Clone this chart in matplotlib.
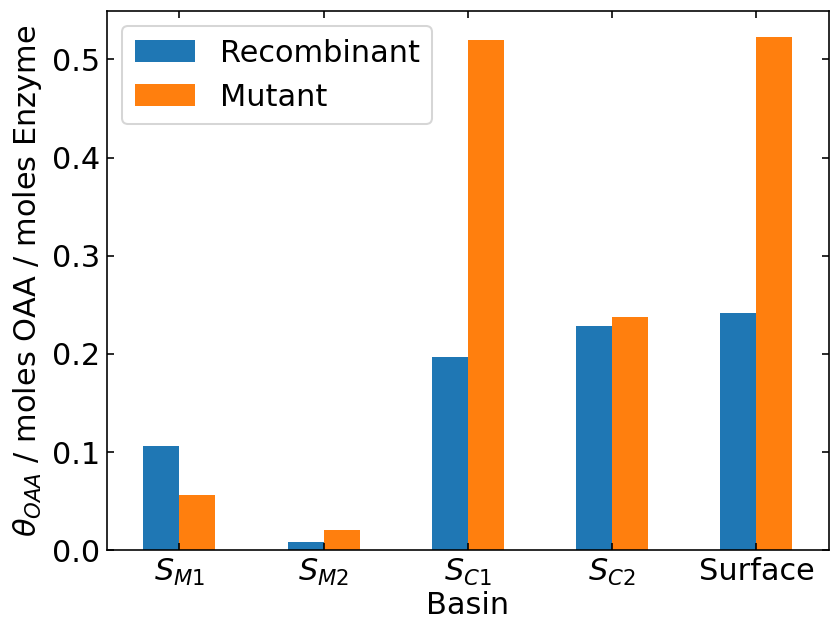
import numpy as np
import matplotlib
matplotlib.use("Agg")
import matplotlib.pyplot as plt

basins = [r"$S_{M1}$", r"$S_{M2}$", r"$S_{C1}$", r"$S_{C2}$", "Surface"]
recombinant = [0.106, 0.008, 0.197, 0.228, 0.242]
mutant = [0.056, 0.021, 0.520, 0.238, 0.523]

DPI = 146
plt.rcParams.update({"font.size": 15})

fig, ax = plt.subplots(figsize=(831 / DPI, 621 / DPI), dpi=DPI)
fig.subplots_adjust(left=0.129, right=0.997, top=0.982, bottom=0.114)

x = np.arange(len(basins))
w = 0.25
ax.bar(x - w / 2, recombinant, w, color="#1f77b4", label="Recombinant")
ax.bar(x + w / 2, mutant, w, color="#ff7f0e", label="Mutant")

ax.set_xlim(-0.5, len(basins) - 0.5)
ax.set_xticks(x)
ax.set_xticklabels(basins)
ax.set_yticks(np.arange(0, 0.51, 0.1))
ax.tick_params(direction="in", top=True, right=True)
ax.set_xlabel("Basin", labelpad=1.5)
ax.set_ylabel(r"$\theta_{OAA}$ / moles OAA / moles Enzyme")
ax.legend(loc="upper left")

fig.savefig("out.png", dpi=DPI)
